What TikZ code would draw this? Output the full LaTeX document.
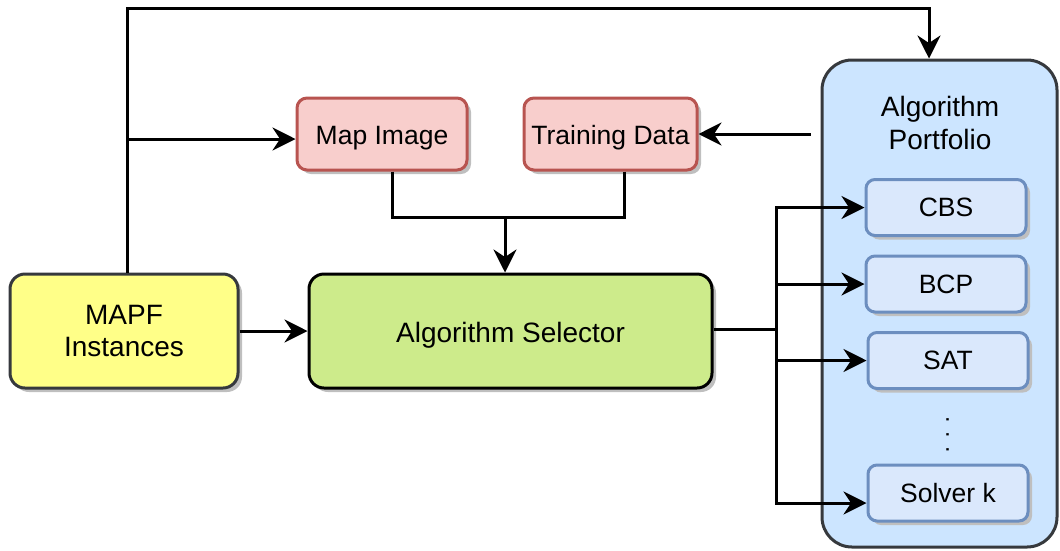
\documentclass[tikz,border=0pt]{standalone}
\usepackage{fontspec}
\setmainfont{Liberation Sans}
\usetikzlibrary{arrows.meta,shadows,calc}
\definecolor{mapfFill}{HTML}{FFFF88}
\definecolor{darkStroke}{HTML}{36393D}
\definecolor{selFill}{HTML}{CDEB8B}
\definecolor{redFill}{HTML}{F8CECC}
\definecolor{redStroke}{HTML}{B85450}
\definecolor{portFill}{HTML}{CCE5FF}
\definecolor{subFill}{HTML}{DAE8FC}
\definecolor{subStroke}{HTML}{6C8EBF}
\tikzset{
  shad/.style={drop shadow={shadow xshift=4pt, shadow yshift=-4pt, fill=black!25, opacity=1}},
  bigbox/.style={draw, line width=3pt, rounded corners=15pt, shad, align=center,
    font=\fontsize{28}{32}\selectfont, inner sep=0pt},
  redbox/.style={draw=redStroke, fill=redFill, line width=3pt, rounded corners=10pt, shad,
    font=\fontsize{26.5}{30}\selectfont, inner sep=0pt, minimum height=72pt,
    text height=21pt, text depth=0pt},
  subbox/.style={draw=subStroke, fill=subFill, line width=3pt, rounded corners=9pt, shad,
    font=\fontsize{26.5}{30}\selectfont, inner sep=0pt, minimum width=160pt, minimum height=56pt},
  conn/.style={line width=3pt},
  arr/.style={line width=3pt, -{Stealth[length=23pt,width=23pt,inset=7.5pt]}},
}
\begin{document}
\begin{tikzpicture}[x=1pt,y=-1pt]
\useasboundingbox (0,0) rectangle (1060,550);
% nodes
\node[bigbox, draw=darkStroke, fill=mapfFill, minimum width=228pt, minimum height=114pt] (mapf) at (124,331) {MAPF\\Instances};
\node[bigbox, draw=black, fill=selFill, minimum width=403pt, minimum height=114pt, text height=22pt, text depth=0pt] (sel) at (510.5,331) {Algorithm Selector};
\node[redbox, minimum width=170pt] (map) at (382,134) {Map Image};
\node[redbox, minimum width=173pt] (train) at (610.5,134) {Training Data};
\node[draw=darkStroke, fill=portFill, line width=3pt, rounded corners=30pt, minimum width=235pt, minimum height=487pt, inner sep=0pt] (port) at (939.5,303.5) {};
\node[align=center, font=\fontsize{28}{33}\selectfont] (ptitle) at (940,123) {Algorithm\\Portfolio};
\node[subbox] (cbs) at (946,207.5) {CBS};
\node[subbox] (bcp) at (946,284) {BCP};
\node[subbox] (sat) at (948,360.5) {SAT};
\node[subbox] (solver) at (948,493) {Solver k};
\node[rotate=-90, font=\fontsize{23.5}{30}\selectfont, inner sep=0pt] (dots) at (947.5,435) {. . .};
% connectors
\coordinate (topL) at (127,8);
\coordinate (topR) at (929,8);
\draw[arr] (mapf.north -| topL) -- (topL) -- (topR) -- (topR |- port.north);
\coordinate (br) at (127,139);
\draw[arr] (br) -- (br -| map.west);
\coordinate (j) at (505,217);
\draw[conn] ([xshift=10pt]map.south) |- (j);
\draw[conn] ([xshift=14pt]train.south) |- (j);
\draw[arr] (j) -- (j |- sel.north);
\draw[arr] (mapf.east) -- (sel.west);
\draw[arr] ([xshift=-10pt]port.west |- train.east) -- (train.east);
\coordinate (bus) at (776,329);
\draw[conn] (sel.east |- bus) -- (bus);
\draw[arr] (bus) |- (cbs.west);
\draw[arr] (bus) |- (bcp.west);
\draw[arr] (bus) |- (sat.west);
\draw[arr] (bus) |- ([yshift=-10pt]solver.west);
\end{tikzpicture}
\end{document}
